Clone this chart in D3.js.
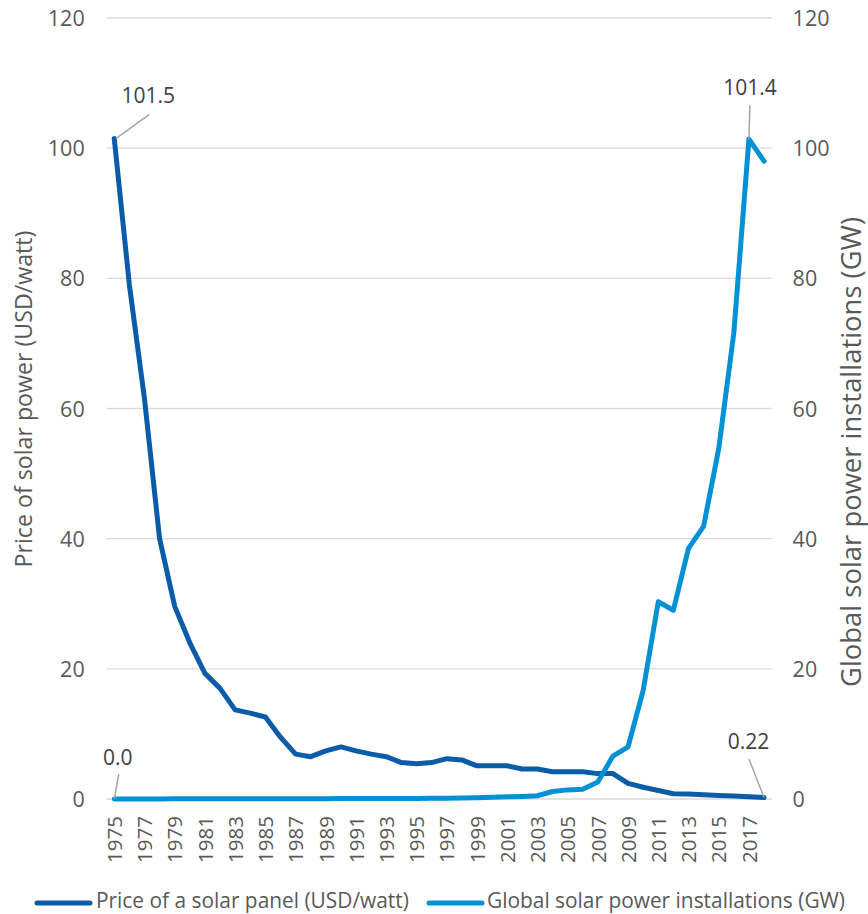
<!DOCTYPE html>
<html>
<head>
<meta charset="utf-8">
<script src="https://cdn.jsdelivr.net/npm/d3@7/dist/d3.min.js"></script>
<style>
  html, body { margin: 0; padding: 0; background: #fff; }
  svg { display: block; font-family: "Open Sans", sans-serif; }
</style>
</head>
<body>
<svg id="chart" width="868" height="914"></svg>
<script>
// Years on the category axis
const years = d3.range(1975, 2019);

// Price of a solar panel (USD/watt)
const priceUsdPerWatt = [
  101.5, 79.0, 61.5, 40.0, 29.6, 24.0, 19.3, 17.0, 13.7, 13.2,
  12.6, 9.5, 6.9, 6.5, 7.4, 8.0, 7.4, 6.9, 6.5, 5.6,
  5.4, 5.6, 6.2, 6.0, 5.1, 5.1, 5.1, 4.6, 4.6, 4.2,
  4.2, 4.2, 3.9, 3.9, 2.4, 1.8, 1.3, 0.8, 0.75, 0.65,
  0.55, 0.45, 0.35, 0.22
];

// Global solar power installations (GW)
const installationsGW = [
  0.0, 0.01, 0.01, 0.01, 0.02, 0.02, 0.02, 0.02, 0.03, 0.03,
  0.03, 0.04, 0.04, 0.05, 0.05, 0.06, 0.06, 0.07, 0.08, 0.08,
  0.09, 0.1, 0.12, 0.15, 0.2, 0.28, 0.33, 0.4, 0.5, 1.15,
  1.4, 1.5, 2.6, 6.6, 8.0, 16.7, 30.3, 29.0, 38.5, 41.9,
  53.8, 71.6, 101.4, 98.0
];

// Axis ticks
const valueTicks = [0, 20, 40, 60, 80, 100, 120];
const yearTickLabels = years.filter((y, i) => i % 2 === 0);

const seriesNames = ["Price of a solar panel (USD/watt)", "Global solar power installations (GW)"];
const axisTitles = ["Price of solar power (USD/watt)", "Global solar power installations (GW)"];

const colors = { price: "#0B5CA8", installs: "#0391D5", grid: "#D9D9D9", tick: "#595959", label: "#404040", leader: "#A6A6A6" };

const svg = d3.select("#chart");
const plot = { left: 106.7, right: 771.6, top: 18, bottom: 799 };

// Scale a text's font size so that it spans the given length
function fitText(sel, length) {
  const base = 20;
  sel.style("font-size", base + "px");
  const w = sel.node().getComputedTextLength();
  sel.style("font-size", (base * length / w).toFixed(2) + "px");
}

const x = d3.scalePoint().domain(years).range([plot.left, plot.right]).padding(0.5);
const yLeft = d3.scaleLinear().domain([0, 120]).range([plot.bottom, plot.top]);
const yRight = d3.scaleLinear().domain([0, 120]).range([plot.bottom, plot.top]);

// Horizontal gridlines
svg.append("g")
  .selectAll("line")
  .data(valueTicks)
  .join("line")
  .attr("x1", plot.left).attr("x2", plot.right)
  .attr("y1", d => yLeft(d)).attr("y2", d => yLeft(d))
  .attr("stroke", colors.grid).attr("stroke-width", 1.4);

// Left value axis
const leftAxis = svg.append("g")
  .attr("transform", `translate(${plot.left - 22},0)`)
  .call(d3.axisLeft(yLeft).tickValues(valueTicks).tickSize(0).tickPadding(0));
leftAxis.select(".domain").remove();
leftAxis.selectAll("text").attr("fill", colors.tick).style("font-size", "21.5px")
  .style("font-family", "'Open Sans', sans-serif").attr("dy", "0.35em");

// Right value axis
const rightAxis = svg.append("g")
  .attr("transform", `translate(${plot.right + 21},0)`)
  .call(d3.axisRight(yRight).tickValues(valueTicks).tickSize(0).tickPadding(0));
rightAxis.select(".domain").remove();
rightAxis.selectAll("text").attr("fill", colors.tick).style("font-size", "21.5px")
  .style("font-family", "'Open Sans', sans-serif").attr("dy", "0.35em");

// Bottom category axis, labels every other year, rotated
const bottomAxis = svg.append("g")
  .attr("transform", `translate(0,${plot.bottom})`)
  .call(d3.axisBottom(x).tickValues(yearTickLabels).tickSize(0).tickPadding(0));
bottomAxis.select(".domain").remove();
bottomAxis.selectAll("text")
  .attr("fill", colors.tick).style("font-size", "20.5px")
  .style("font-family", "'Open Sans', sans-serif")
  .attr("transform", "rotate(-90)")
  .attr("text-anchor", "end")
  .attr("x", -17).attr("y", 0).attr("dy", "0.35em");

// Axis titles
const leftTitle = svg.append("text")
  .attr("transform", `translate(24,399) rotate(-90)`)
  .attr("text-anchor", "middle").attr("dy", "0.35em")
  .attr("fill", colors.tick)
  .text(axisTitles[0]);
fitText(leftTitle, 337);
const rightTitle = svg.append("text")
  .attr("transform", `translate(851,452) rotate(-90)`)
  .attr("text-anchor", "middle").attr("dy", "0.35em")
  .attr("fill", colors.tick)
  .text(axisTitles[1]);
fitText(rightTitle, 470);

// Series lines
const priceLine = d3.line().x((d, i) => x(years[i])).y(d => yLeft(d));
const installLine = d3.line().x((d, i) => x(years[i])).y(d => yRight(d));

svg.append("path").datum(priceUsdPerWatt)
  .attr("d", priceLine).attr("fill", "none")
  .attr("stroke", colors.price).attr("stroke-width", 5)
  .attr("stroke-linejoin", "round").attr("stroke-linecap", "round");

svg.append("path").datum(installationsGW)
  .attr("d", installLine).attr("fill", "none")
  .attr("stroke", colors.installs).attr("stroke-width", 5)
  .attr("stroke-linejoin", "round").attr("stroke-linecap", "round");

// Data labels with leader lines at the first and last points
const n = years.length - 1;
const dataLabels = [
  { px: x(years[0]), py: yLeft(priceUsdPerWatt[0]), ox: 2, dx: 35, dy: -24, text: priceUsdPerWatt[0].toFixed(1), tx: 34, ty: -35 },
  { px: x(years[0]), py: yRight(installationsGW[0]), ox: 0, dx: 4.5, dy: -25, text: installationsGW[0].toFixed(1), tx: 3.5, ty: -34 },
  { px: x(years[n - 1]), py: yRight(installationsGW[n - 1]), ox: 0, dx: 1, dy: -34, text: installationsGW[n - 1].toFixed(1), tx: 1, ty: -44 },
  { px: x(years[n]), py: yLeft(priceUsdPerWatt[n]), ox: 0, dx: -15, dy: -38.5, text: priceUsdPerWatt[n].toFixed(2), tx: -15.5, ty: -48.5 }
];

const labelG = svg.append("g");
labelG.selectAll("line")
  .data(dataLabels)
  .join("line")
  .attr("x1", d => d.px + d.ox).attr("y1", d => d.py)
  .attr("x2", d => d.px + d.dx).attr("y2", d => d.py + d.dy)
  .attr("stroke", colors.leader).attr("stroke-width", 1.5);
labelG.selectAll("text")
  .data(dataLabels)
  .join("text")
  .attr("x", d => d.px + d.tx)
  .attr("y", d => d.py + d.ty)
  .attr("text-anchor", "middle")
  .attr("fill", colors.label).style("font-size", "21px")
  .text(d => d.text);

// Legend
const legend = svg.append("g");
const legendItems = [
  { name: seriesNames[0], color: colors.price, x0: 37, x1: 90, tx: 96, len: 313 },
  { name: seriesNames[1], color: colors.installs, x0: 429, x1: 482, tx: 487, len: 358 }
];
legendItems.forEach(item => {
  legend.append("line")
    .attr("x1", item.x0).attr("x2", item.x1).attr("y1", 903).attr("y2", 903)
    .attr("stroke", item.color).attr("stroke-width", 5).attr("stroke-linecap", "round");
  const t = legend.append("text")
    .attr("x", item.tx).attr("y", 907.5)
    .attr("fill", colors.tick)
    .text(item.name);
  fitText(t, item.len);
});
</script>
</body>
</html>
